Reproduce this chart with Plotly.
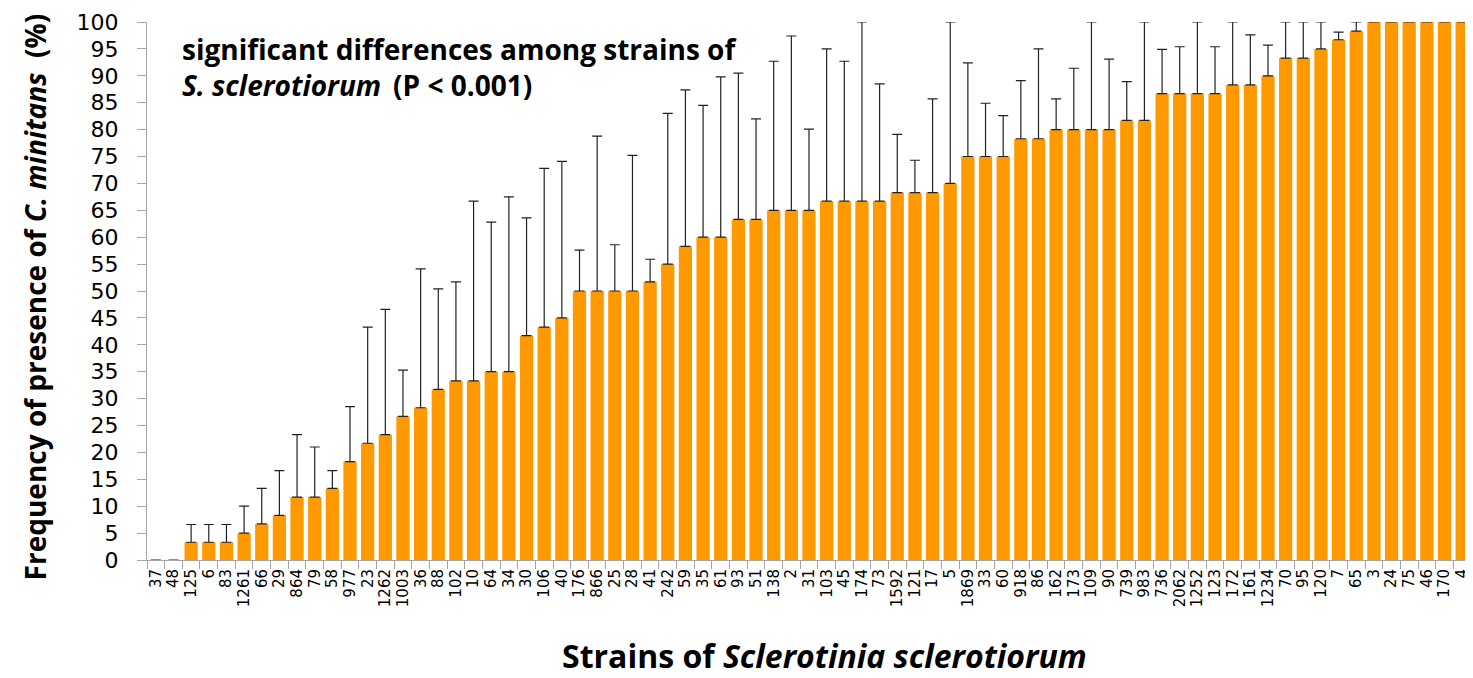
import plotly.graph_objects as go

strains = ["37", "48", "125", "6", "83", "1261", "66", "29", "864", "79",
           "58", "977", "23", "1262", "1003", "36", "88", "102", "10", "64",
           "34", "30", "106", "40", "176", "866", "25", "28", "41", "242",
           "59", "35", "61", "93", "51", "138", "2", "31", "103", "45",
           "174", "73", "1592", "121", "17", "5", "1869", "33", "60", "918",
           "86", "162", "173", "109", "90", "739", "983", "736", "2062", "1252",
           "123", "172", "161", "1234", "70", "95", "120", "7", "65", "3",
           "24", "75", "46", "170", "4"]

frequency = [0, 0, 3.3, 3.3, 3.3, 5.0, 6.7, 8.3, 11.7, 11.7,
             13.3, 18.3, 21.7, 23.3, 26.7, 28.3, 31.7, 33.3, 33.3, 35.0,
             35.0, 41.7, 43.3, 45.0, 50.0, 50.0, 50.0, 50.0, 51.7, 55.0,
             58.3, 60.0, 60.0, 63.3, 63.3, 65.0, 65.0, 65.0, 66.7, 66.7,
             66.7, 66.7, 68.3, 68.3, 68.3, 70.0, 75.0, 75.0, 75.0, 78.3,
             78.3, 80.0, 80.0, 80.0, 80.0, 81.7, 81.7, 86.7, 86.7, 86.7,
             86.7, 88.3, 88.3, 90.0, 93.3, 93.3, 95.0, 96.7, 98.3, 100,
             100, 100, 100, 100, 100]

upper_limit = [0, 0, 6.6, 6.6, 6.6, 10.0, 13.3, 16.6, 23.3, 21.0,
               16.6, 28.5, 43.3, 46.6, 35.3, 54.1, 50.4, 51.7, 66.7, 62.8,
               67.5, 63.6, 72.8, 74.1, 57.6, 78.8, 58.6, 75.2, 55.9, 83.0,
               87.4, 84.5, 89.8, 90.5, 82.0, 92.7, 97.4, 80.1, 95.0, 92.7,
               100, 88.5, 79.1, 74.3, 85.7, 100, 92.4, 84.9, 82.6, 89.1,
               95.0, 85.7, 91.4, 100, 93.1, 88.9, 100, 94.9, 95.4, 100,
               95.4, 100, 97.6, 95.7, 100, 100, 100, 98.1, 100, 100,
               100, 100, 100, 100, 100]

y_ticks = list(range(0, 101, 5))

err_plus = [u - v for u, v in zip(upper_limit, frequency)]

fig = go.Figure()
fig.add_trace(go.Bar(
    x=strains,
    y=frequency,
    marker=dict(color="#FF9900", line=dict(width=0)),
    error_y=dict(type="data", symmetric=False, array=err_plus,
                 arrayminus=[0] * len(err_plus),
                 color="#222222", thickness=1.2, width=5),
))

axis_gray = "#A6A6A6"
fig.update_layout(
    width=1465, height=670,
    margin=dict(l=139, r=2, t=14, b=118),
    paper_bgcolor="white", plot_bgcolor="white",
    bargap=0.25,
    showlegend=False,
    font=dict(family="DejaVu Sans", color="black"),
    xaxis=dict(
        type="category",
        tickmode="array", tickvals=strains, ticktext=strains,
        tickangle=-90,
        tickson="boundaries",
        ticks="outside", ticklen=8, tickcolor=axis_gray, tickwidth=1,
        showline=True, linecolor=axis_gray, linewidth=1,
        showgrid=False,
        automargin=False,
        tickfont=dict(family="DejaVu Sans", size=15, color="black"),
        ticklabelstandoff=2,
    ),
    yaxis=dict(
        range=[0, 100],
        tickmode="array", tickvals=y_ticks,
        ticks="outside", ticklen=9, tickcolor=axis_gray, tickwidth=1,
        showline=True, linecolor=axis_gray, linewidth=1,
        showgrid=False, zeroline=False,
        automargin=False,
        tickfont=dict(family="DejaVu Sans", size=22, color="black"),
        ticklabelstandoff=14,
    ),
    annotations=[
        dict(text="<b>Strains of <i>Sclerotinia sclerotiorum</i></b>",
             xref="paper", yref="paper", x=0.512, y=-0.177,
             xanchor="center", yanchor="middle", showarrow=False,
             font=dict(family="Open Sans", size=32, color="black")),
        dict(text="<b>Frequency of presence of <i>C. minitans</i>  (%)</b>",
             xref="paper", yref="paper", x=-0.085, y=0.489,
             xanchor="center", yanchor="middle", showarrow=False,
             textangle=-90,
             font=dict(family="Open Sans", size=28, color="black")),
        dict(text="<b>significant differences among strains of</b><br>"
                  "<b><i>S. sclerotiorum</i> \u2009(P &lt; 0.001)</b>",
             xref="paper", yref="paper", x=0.025, y=0.917,
             xanchor="left", yanchor="middle", align="left",
             showarrow=False,
             font=dict(family="Open Sans", size=28, color="black")),
    ],
)

fig.write_html("out.html")
